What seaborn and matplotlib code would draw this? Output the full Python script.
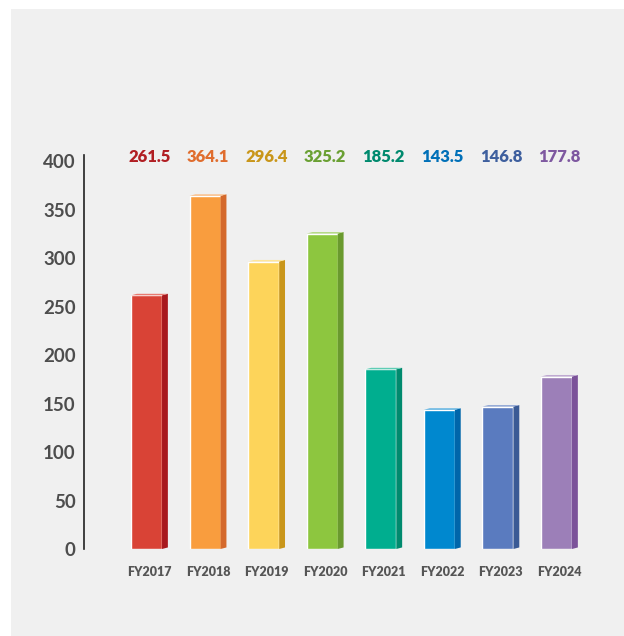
import matplotlib
matplotlib.use("Agg")
import matplotlib.pyplot as plt
import matplotlib.transforms as mtransforms
from matplotlib.patches import Polygon, Rectangle
import seaborn as sns
import pandas as pd

# Data
years = ["FY2017", "FY2018", "FY2019", "FY2020", "FY2021", "FY2022", "FY2023", "FY2024"]
values = [261.5, 364.1, 296.4, 325.2, 185.2, 143.5, 146.8, 177.8]
y_ticks = [0, 50, 100, 150, 200, 250, 300, 350, 400]

# Styling
face_colors = ["#d94336", "#f99d3e", "#fdd45a", "#8dc63f",
               "#00ae8f", "#0088cf", "#5a7bbf", "#9c7fb8"]
side_colors = ["#a8191e", "#d4692c", "#c9961a", "#6a9a2e",
               "#008a6e", "#0066aa", "#3a5a95", "#7b5299"]
top_colors = ["#e87a70", "#fbc08a", "#fee59a", "#b5da85",
              "#5fcdb5", "#5fb3e2", "#92a8d6", "#c0aad2"]
label_colors = ["#b11e23", "#e06d2e", "#c9961a", "#6aa033",
                "#008a6e", "#0070b8", "#3e5f9e", "#7e58a0"]

df = pd.DataFrame({"year": years, "value": values})

sns.set_theme(style="white")
plt.rcParams["font.family"] = ["Lato", "DejaVu Sans"]

W, H = 624, 636
fig = plt.figure(figsize=(W / 100, H / 100), dpi=100)
fig.patch.set_facecolor("white")
fig.patches.append(Rectangle((11 / W, 0), 1 - 11 / W, 1 - 9 / H,
                             transform=fig.transFigure, facecolor="#f0f0f0",
                             edgecolor="none", zorder=-10))

ax_left, ax_right = 84, 600
ax_top, ax_bottom = 155, 549
ax = fig.add_axes([ax_left / W, (H - ax_bottom) / H,
                   (ax_right - ax_left) / W, (ax_bottom - ax_top) / H])
ax.set_facecolor("none")

bar_w = 0.53
sns.barplot(data=df, x="year", y="value", hue="year", palette=face_colors,
            legend=False, width=bar_w, saturation=1, ax=ax, zorder=3)

ax.set_xlim(-1.067, 7.743)
ax.set_ylim(0, 406.2)

# 3D-looking side and top faces built from each bar's geometry
dx = 0.1
dy = 1.6
for p, sc, tc in zip(ax.patches, side_colors, top_colors):
    x0 = p.get_x()
    x1 = x0 + p.get_width()
    h = p.get_height()
    ax.add_patch(Polygon([(x1, 0), (x1 + dx, dy), (x1 + dx, h + dy), (x1, h)],
                         closed=True, facecolor=sc, edgecolor="none", zorder=3))
    ax.add_patch(Polygon([(x0, h), (x1, h), (x1 + dx, h + dy), (x0 + dx, h + dy)],
                         closed=True, facecolor=tc, edgecolor="none", zorder=3))

# Value labels in one row above the plot
label_y = (ax_bottom - 157) / (ax_bottom - ax_top)
for i, (v, c) in enumerate(zip(values, label_colors)):
    ax.text(i + dx / 2, label_y, f"{v:.1f}",
            transform=mtransforms.blended_transform_factory(ax.transData, ax.transAxes),
            ha="center", va="center", fontsize=12, fontweight="heavy", color=c)

# Axes styling
for s in ["top", "right", "bottom"]:
    ax.spines[s].set_visible(False)
ax.spines["left"].set_color("#222222")
ax.spines["left"].set_linewidth(1.2)
ax.set_yticks(y_ticks)
ax.set_yticklabels([str(t) for t in y_ticks])
ax.tick_params(axis="y", length=0, pad=6, labelsize=13.5, labelcolor="#4d4d4d")
ax.tick_params(axis="x", length=0, pad=12, labelsize=9, labelcolor="#555555")
for lbl in ax.get_yticklabels():
    lbl.set_fontweight("bold")
shift = mtransforms.ScaledTranslation(3 / 100, 0, fig.dpi_scale_trans)
for lbl in ax.get_xticklabels():
    lbl.set_fontweight("heavy")
    lbl.set_transform(lbl.get_transform() + shift)
ax.set_xlabel("")
ax.set_ylabel("")
ax.grid(False)

fig.savefig("out.png", dpi=100)
